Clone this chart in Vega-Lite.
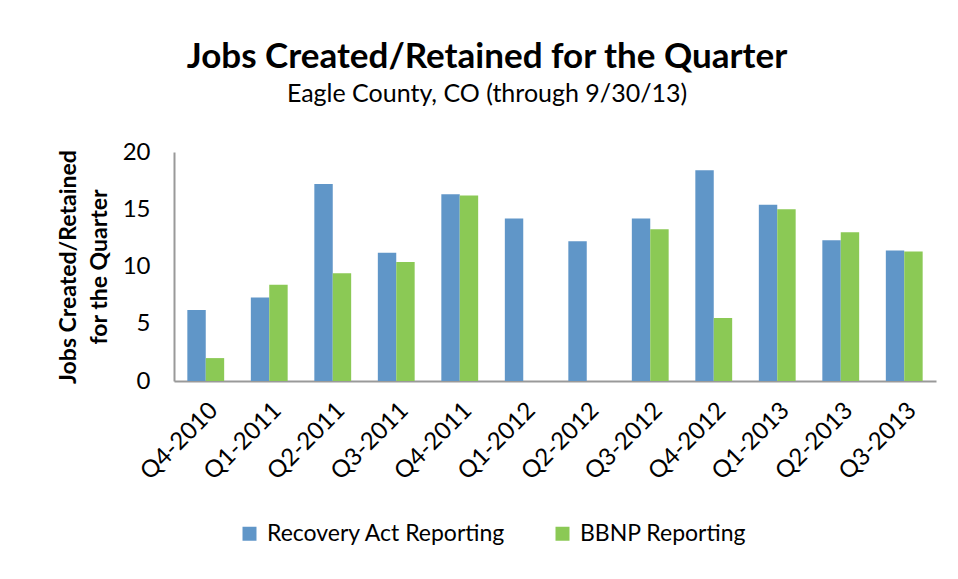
{
  "$schema": "https://vega.github.io/schema/vega-lite/v6.json",
  "width": 762,
  "height": 229,
  "autosize": {"type": "none"},
  "padding": {"left": 174, "top": 152, "right": 22, "bottom": 198},
  "background": "white",
  "title": {
    "text": "Jobs Created/Retained for the Quarter",
    "subtitle": "Eagle County, CO (through 9/30/13)",
    "font": "Lato",
    "fontSize": 35,
    "fontWeight": "bold",
    "color": "black",
    "subtitleFont": "Lato",
    "subtitleFontSize": 25,
    "subtitleFontWeight": "normal",
    "subtitleColor": "black",
    "subtitlePadding": 7,
    "anchor": "middle",
    "dx": -68,
    "offset": 33
  },
  "data": {
    "values": [
      {"quarter": "Q4-2010", "series": "Recovery Act Reporting", "jobs": 6.2},
      {"quarter": "Q4-2010", "series": "BBNP Reporting", "jobs": 2.0},
      {"quarter": "Q1-2011", "series": "Recovery Act Reporting", "jobs": 7.3},
      {"quarter": "Q1-2011", "series": "BBNP Reporting", "jobs": 8.4},
      {"quarter": "Q2-2011", "series": "Recovery Act Reporting", "jobs": 17.2},
      {"quarter": "Q2-2011", "series": "BBNP Reporting", "jobs": 9.4},
      {"quarter": "Q3-2011", "series": "Recovery Act Reporting", "jobs": 11.2},
      {"quarter": "Q3-2011", "series": "BBNP Reporting", "jobs": 10.4},
      {"quarter": "Q4-2011", "series": "Recovery Act Reporting", "jobs": 16.3},
      {"quarter": "Q4-2011", "series": "BBNP Reporting", "jobs": 16.2},
      {"quarter": "Q1-2012", "series": "Recovery Act Reporting", "jobs": 14.2},
      {"quarter": "Q2-2012", "series": "Recovery Act Reporting", "jobs": 12.2},
      {"quarter": "Q3-2012", "series": "Recovery Act Reporting", "jobs": 14.2},
      {"quarter": "Q3-2012", "series": "BBNP Reporting", "jobs": 13.25},
      {"quarter": "Q4-2012", "series": "Recovery Act Reporting", "jobs": 18.4},
      {"quarter": "Q4-2012", "series": "BBNP Reporting", "jobs": 5.5},
      {"quarter": "Q1-2013", "series": "Recovery Act Reporting", "jobs": 15.4},
      {"quarter": "Q1-2013", "series": "BBNP Reporting", "jobs": 15.0},
      {"quarter": "Q2-2013", "series": "Recovery Act Reporting", "jobs": 12.3},
      {"quarter": "Q2-2013", "series": "BBNP Reporting", "jobs": 13.0},
      {"quarter": "Q3-2013", "series": "Recovery Act Reporting", "jobs": 11.4},
      {"quarter": "Q3-2013", "series": "BBNP Reporting", "jobs": 11.3}
    ]
  },
  "mark": {"type": "bar"},
  "encoding": {
    "x": {
      "field": "quarter",
      "type": "nominal",
      "sort": null,
      "scale": {"paddingInner": 0.42, "paddingOuter": 0.21},
      "axis": {
        "title": null,
        "labelAngle": -45,
        "labelFont": "Lato",
        "labelFontSize": 24,
        "labelColor": "black",
        "labelPadding": 17,
        "labelLimit": 0,
        "ticks": false,
        "domainColor": "#999999",
        "domainWidth": 2
      }
    },
    "xOffset": {"field": "series", "sort": ["Recovery Act Reporting", "BBNP Reporting"]},
    "y": {
      "field": "jobs",
      "type": "quantitative",
      "scale": {"domain": [0, 20]},
      "axis": {
        "values": [0, 5, 10, 15, 20],
        "grid": false,
        "ticks": false,
        "title": ["Jobs Created/Retained", "for the Quarter"],
        "titleFont": "Lato",
        "titleFontSize": 23,
        "titleFontWeight": "bold",
        "titleColor": "black",
        "titlePadding": 11,
        "titleLineHeight": 31,
        "labelFont": "Lato",
        "labelFontSize": 24,
        "labelColor": "black",
        "labelPadding": 24,
        "domainColor": "#999999",
        "domainWidth": 2
      }
    },
    "color": {
      "field": "series",
      "type": "nominal",
      "sort": ["Recovery Act Reporting", "BBNP Reporting"],
      "scale": {"range": ["#6096C8", "#8BC955"]},
      "legend": {
        "title": null,
        "orient": "none",
        "direction": "horizontal",
        "legendX": 64,
        "legendY": 370,
        "symbolType": "square",
        "symbolSize": 196,
        "symbolStrokeWidth": 0,
        "symbolOpacity": 1,
        "labelFont": "Lato",
        "labelFontSize": 23,
        "labelLimit": 0,
        "labelColor": "black",
        "labelOffset": 6,
        "columnPadding": 45
      }
    }
  },
  "config": {"view": {"stroke": null}}
}
